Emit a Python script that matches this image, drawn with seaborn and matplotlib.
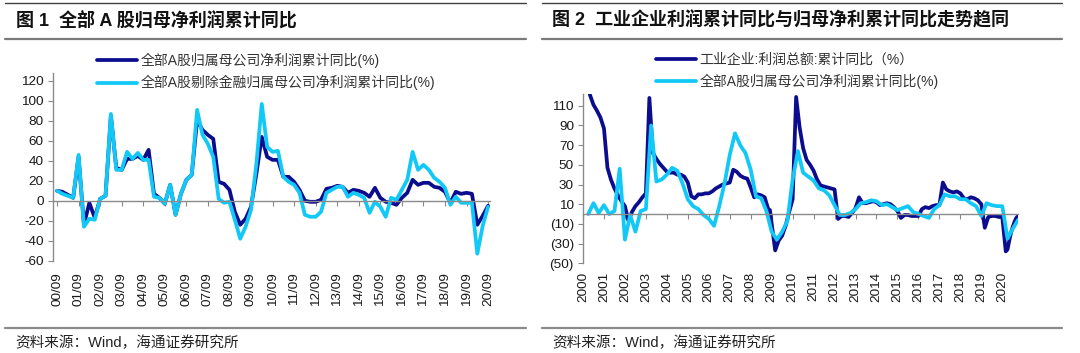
import numpy as np
import pandas as pd
import matplotlib
matplotlib.use('Agg')
import matplotlib.pyplot as plt
import seaborn as sns
from matplotlib.lines import Line2D

# ---- data: figure 1 (quarterly, 2000/09 .. 2020/09) ----
q_labels = ['00/09', '01/09', '02/09', '03/09', '04/09', '05/09', '06/09', '07/09',
            '08/09', '09/09', '10/09', '11/09', '12/09', '13/09', '14/09', '15/09',
            '16/09', '17/09', '18/09', '19/09', '20/09']
a_share_all = [10, 9, 6, 3, 44, -24, -2, -17, 2, 5,
               85, 33, 31, 42, 42, 45, 41, 51, 7, 3,
               -3, 16, -14, 7, 21, 26, 81, 71, 66, 62,
               19, 17, 11, -11, -24, -18, -6, 27, 64, 44,
               41, 41, 24, 24, 19, 11, 0, -1, -1, 1,
               12, 13, 15, 14, 8, 11, 10, 8, 4, 13,
               3, -1, -2, -4, 3, 8, 21, 16, 18, 18,
               14, 13, 9, -2, 9, 7, 8, 7, -24, -15,
               -5]
a_share_exfin = [10, 7, 5, 3, 46, -26, -18, -19, 2, 5,
                 87, 31, 31, 49, 42, 48, 41, 41, 4, 3,
                 -3, 16, -14, 7, 21, 26, 91, 66, 57, 44,
                 2, -2, -1, -19, -38, -26, -9, 37, 97, 54,
                 49, 50, 24, 19, 16, 8, -14, -16, -16, -11,
                 8, 11, 14, 14, 4, 8, 6, 3, -12, -1,
                 -6, -16, 3, 1, 11, 21, 49, 31, 36, 31,
                 23, 19, 13, -4, 4, -2, -2, -2, -53, -25,
                 -6]

# ---- data: figure 2 ----
ind_months = ['2000-02', '2000-04', '2000-06', '2000-08', '2000-10', '2000-12',
              '2001-02', '2001-04', '2001-06', '2001-08', '2001-10', '2001-12',
              '2002-02', '2002-04', '2002-06', '2002-08', '2002-10', '2002-12',
              '2003-02', '2003-03', '2003-04', '2003-06', '2003-08', '2003-10', '2003-12',
              '2004-02', '2004-04', '2004-06', '2004-08', '2004-10', '2004-12',
              '2005-02', '2005-04', '2005-06', '2005-08', '2005-10', '2005-12',
              '2006-02', '2006-04', '2006-06', '2006-08', '2006-10', '2006-12',
              '2007-02', '2007-04', '2007-06', '2007-08', '2007-10', '2007-12',
              '2008-02', '2008-04', '2008-06', '2008-08', '2008-10', '2008-11',
              '2009-02', '2009-04', '2009-06', '2009-08', '2009-10', '2009-12',
              '2010-02', '2010-04', '2010-06', '2010-08', '2010-10', '2010-12',
              '2011-02', '2011-04', '2011-06', '2011-08', '2011-10', '2011-12',
              '2012-02', '2012-04', '2012-06', '2012-08', '2012-10', '2012-12',
              '2013-02', '2013-04', '2013-06', '2013-08', '2013-10', '2013-12',
              '2014-02', '2014-04', '2014-06', '2014-08', '2014-10', '2014-12',
              '2015-02', '2015-04', '2015-06', '2015-08', '2015-10', '2015-12',
              '2016-02', '2016-04', '2016-06', '2016-08', '2016-10', '2016-12',
              '2017-02', '2017-04', '2017-06', '2017-08', '2017-10', '2017-12',
              '2018-02', '2018-04', '2018-06', '2018-08', '2018-10', '2018-12',
              '2019-02', '2019-04', '2019-06', '2019-08', '2019-10', '2019-12',
              '2020-02', '2020-03', '2020-04', '2020-05', '2020-06', '2020-07',
              '2020-08', '2020-09']
ind_profit = [150, 121, 111, 105, 98, 87,
              47, 35, 26, 19, 13, 8,
              -7, 2, 8, 12, 17, 21,
              118, 90, 62, 56, 51, 47, 43,
              42, 42, 40, 40, 38, 32,
              18, 16, 20, 20, 21, 21,
              23, 26, 28, 30, 31, 32,
              45, 43, 39, 37, 36, 27,
              17, 20, 19, 17, 5, 4,
              -37, -27, -22, -12, 2, 15,
              119, 88, 67, 55, 50, 44,
              35, 29, 28, 27, 26, 25,
              -5, -2, -2, -3, 1, 6,
              17, 11, 11, 12, 13, 12,
              9, 10, 11, 10, 7, 3,
              -4, -1, -1, -2, -2, -2,
              5, 7, 6, 8, 9, 9,
              32, 25, 23, 22, 23, 21,
              16, 15, 17, 16, 14, 10,
              -14, -3, -2, -2, -3, -3,
              -38, -36, -27, -19, -13, -8,
              -4, -2]
a_quarters = pd.period_range('2000Q1', '2020Q3', freq='Q').strftime('%Y-%m').tolist()
a_share_q = [0, 11, 1, 9,
             0, 3, 46, -26,
             -1, -18, 3, 5,
             90, 33, 35, 40,
             47, 44, 31, 15,
             8, 5, -1, -5,
             -12, 8, 31, 60,
             82, 70, 62, 45,
             18, 16, 3, -18,
             -26, -18, -7, 35,
             64, 42, 38, 34,
             26, 24, 19, 9,
             -1, -1, 1, 5,
             11, 12, 14, 13,
             9, 10, 7, 4,
             6, 8, 2, 0,
             -2, -4, 5, 9,
             20, 18, 18, 15,
             15, 11, 8, -2,
             11, 9, 8, 8,
             -25, -15, -6]
year_labels = [str(y) for y in range(2000, 2021)]

DARK = '#0c0c8e'
LIGHT = '#12c8f6'
GREY = '#8a8a8a'


def month_pos(s):
    d = pd.to_datetime(pd.Series(s), format='%Y-%m')
    return (d.dt.year + d.dt.month / 12.0).values


sns.set_theme(style='white')
plt.rcParams['font.family'] = ['Liberation Sans', 'Noto Sans CJK SC', 'DejaVu Sans']
plt.rcParams['axes.unicode_minus'] = False

fig = plt.figure(figsize=(10.8, 3.53), dpi=100)
W, H = 1080.0, 353.0

ax1 = fig.add_axes([52.7 / W, 1 - 260.7 / H, 437 / W, 187.7 / H])
ax2 = fig.add_axes([583 / W, 1 - 263.2 / H, 435 / W, 169.2 / H])

# panel 1
df1 = pd.DataFrame({'q': np.arange(len(a_share_all)), 'all': a_share_all, 'exfin': a_share_exfin})
sns.lineplot(data=df1, x='q', y='all', ax=ax1, color=DARK, linewidth=2.7,
             label='全部A股归属母公司净利润累计同比(%)')
sns.lineplot(data=df1, x='q', y='exfin', ax=ax1, color=LIGHT, linewidth=2.7,
             label='全部A股剔除金融归属母公司净利润累计同比(%)')
ax1.set_xlim(-0.8, 80.3)
ax1.set_ylim(-60, 128)
ax1.set_yticks(range(-60, 121, 20))
ax1.set_xticks(range(0, 81, 4))
sec1 = ax1.secondary_xaxis('bottom')
sec1.set_xticks(range(0, 81, 4), labels=q_labels, rotation=90)

# panel 2
df2a = pd.DataFrame({'t': month_pos(ind_months), 'v': ind_profit})
df2b = pd.DataFrame({'t': month_pos(a_quarters), 'v': a_share_q})
sns.lineplot(data=df2a, x='t', y='v', ax=ax2, color=DARK, linewidth=2.7,
             label='工业企业:利润总额:累计同比（%）')
sns.lineplot(data=df2b, x='t', y='v', ax=ax2, color=LIGHT, linewidth=2.7,
             label='全部A股归属母公司净利润累计同比(%)')
ax2.set_xlim(2000.0, 2020.75)
ax2.set_ylim(-50, 122)
yt2 = list(range(-50, 111, 20))
ax2.set_yticks(yt2, labels=[f'({-v})' if v < 0 else str(v) for v in yt2])
ax2.set_xticks(range(2000, 2021))
sec2 = ax2.secondary_xaxis('bottom')
sec2.set_xticks(range(2000, 2021), labels=year_labels, rotation=90)

for ax, sec, pad in [(ax1, sec1, 8), (ax2, sec2, 6.5)]:
    ax.set_xlabel('')
    ax.set_ylabel('')
    for s in ['top', 'right']:
        ax.spines[s].set_visible(False)
    ax.spines['bottom'].set_position(('data', 0))
    ax.spines['bottom'].set_color(GREY)
    ax.spines['left'].set_color(GREY)
    ax.spines['bottom'].set_linewidth(1.0)
    ax.spines['left'].set_linewidth(1.0)
    ax.tick_params(axis='x', bottom=True, direction='out', length=3.5, width=0.8,
                   color=GREY, labelbottom=False)
    ax.tick_params(axis='y', left=True, direction='out', length=3.5, width=0.8,
                   color=GREY, labelsize=9.7, labelcolor='#1a1a1a', pad=3)
    sec.spines['bottom'].set_visible(False)
    sec.tick_params(length=0, pad=pad, labelsize=9.7, labelcolor='#1a1a1a')

leg_kw = dict(loc='upper left', bbox_transform=fig.transFigure, frameon=False,
              borderpad=0, borderaxespad=0, handlelength=2.9, handletextpad=0.25,
              labelspacing=0.5, fontsize=10)
ax1.legend(bbox_to_anchor=(96.5 / W, 1 - 53 / H), **leg_kw)
ax2.legend(bbox_to_anchor=(655.5 / W, 1 - 53 / H), **leg_kw)
for leg in [ax1.get_legend(), ax2.get_legend()]:
    for t in leg.get_texts():
        t.set_color('#333333')

# headers, rules, source lines
titles = ['图 1  全部 A 股归母净利润累计同比',
          '图 2  工业企业利润累计同比与归母净利累计同比走势趋同']
for x0, x1, title in [(5, 526, titles[0]), (542, 1062, titles[1])]:
    fig.add_artist(Line2D([x0 / W, x1 / W], [1 - 3 / H, 1 - 3 / H], color='#404040', lw=1.0))
    fig.add_artist(Line2D([x0 / W, x1 / W], [1 - 38.5 / H, 1 - 38.5 / H], color='#7a7a7a', lw=1.6))
    fig.add_artist(Line2D([x0 / W, x1 / W], [1 - 328 / H, 1 - 328 / H], color='#8a8a8a', lw=1.6))
    fig.text((x0 + 10.5) / W, 1 - 20.5 / H, title, fontsize=13, fontweight='bold',
             va='center', ha='left', color='#111111')
    fig.text((x0 + 10.5) / W, 1 - 343 / H, '资料来源：Wind，海通证券研究所', fontsize=10.5,
             va='center', ha='left', color='#222222')

fig.savefig('out.png', dpi=100)
